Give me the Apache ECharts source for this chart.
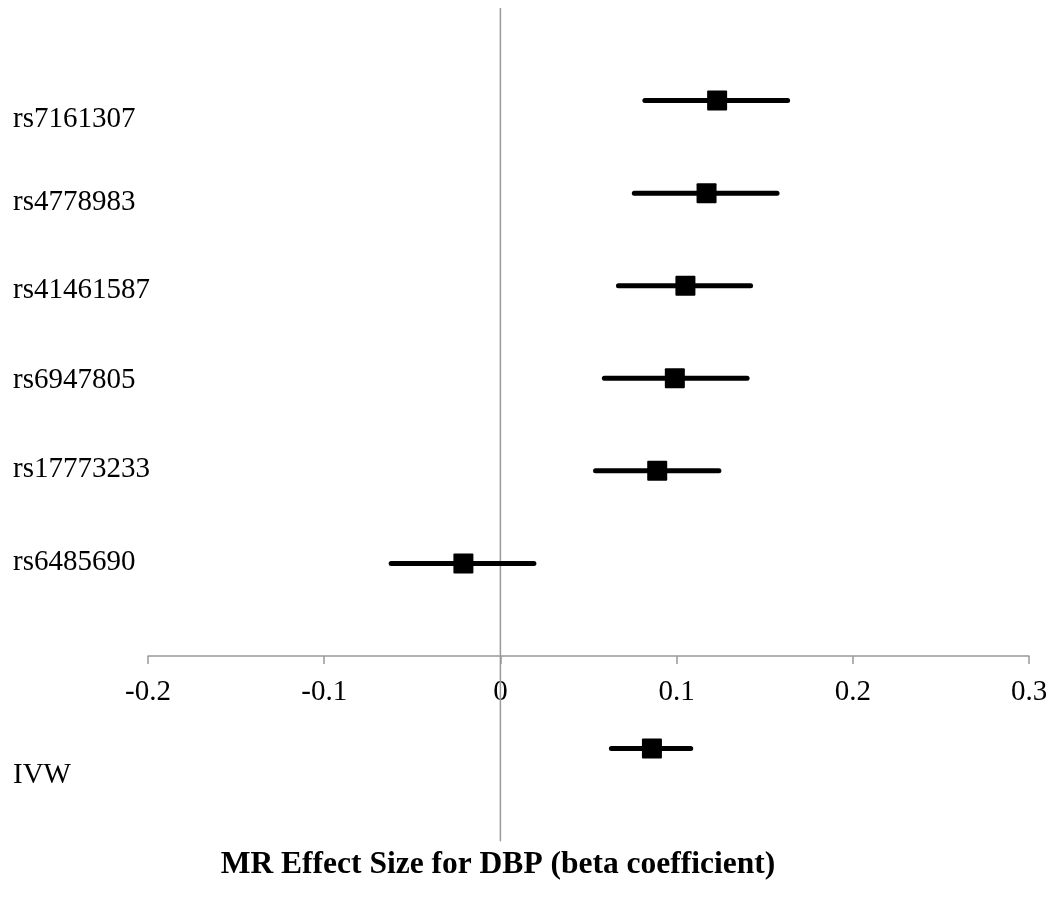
<!DOCTYPE html>
<html>
<head>
<meta charset="utf-8">
<script src="https://cdn.jsdelivr.net/npm/echarts@6/dist/echarts.min.js"></script>
<style>
  html, body { margin: 0; padding: 0; background: #fff; }
  #chart { width: 1052px; height: 901px; }
</style>
</head>
<body>
<div id="chart"></div>
<script>
// ---- data (top to bottom) ----
const snps      = ['rs7161307', 'rs4778983', 'rs41461587', 'rs6947805', 'rs17773233', 'rs6485690'];
const estimates = [0.123, 0.117, 0.105, 0.099, 0.089, -0.021];
const lowerCI   = [0.082, 0.076, 0.067, 0.059, 0.054, -0.062];
const upperCI   = [0.163, 0.157, 0.142, 0.140, 0.124, 0.019];
const pooledName = 'IVW';
const pooledEstimate = 0.086;
const pooledLower = 0.063;
const pooledUpper = 0.108;
const xTicks = [-0.2, -0.1, 0, 0.1, 0.2, 0.3];
const referenceValue = 0;
const axisTitle = 'MR Effect Size for DBP (beta coefficient)';

// ---- layout nudges for the row labels (pixels, style only) ----
const labelNudge = [19, 9, 5, 2, -1, -1];
const pooledNudge = 27;

const FONT = '"Liberation Serif", "Times New Roman", serif';

const rows = snps.map((n, i) => [lowerCI[i], upperCI[i], estimates[i], snps.length - i, n, labelNudge[i]]);
rows.push([pooledLower, pooledUpper, pooledEstimate, -1, pooledName, pooledNudge]);

const chart = echarts.init(document.getElementById('chart'));
chart.setOption({
  animation: false,
  backgroundColor: '#ffffff',
  title: {
    text: axisTitle,
    left: 493,
    textAlign: 'center',
    top: 844,
    textStyle: { fontFamily: FONT, fontSize: 31.5, fontWeight: 'bold', color: '#000' }
  },
  grid: { left: 148, right: 23, top: 8, bottom: 245, containLabel: false },
  xAxis: {
    type: 'value',
    min: xTicks[0],
    max: xTicks[xTicks.length - 1],
    interval: 0.1,
    axisLine: { show: true, onZero: false, lineStyle: { color: '#999', width: 1.5 } },
    axisTick: { show: true, length: 8, lineStyle: { color: '#999', width: 1.5 } },
    axisLabel: { fontFamily: FONT, fontSize: 29, color: '#000', margin: 22 },
    splitLine: { show: false }
  },
  yAxis: {
    type: 'value',
    min: 0,
    max: 7,
    axisLine: { show: false },
    axisTick: { show: false },
    axisLabel: { show: false },
    splitLine: { show: false }
  },
  series: [
    {
      type: 'custom',
      name: 'zero line',
      clip: false,
      silent: true,
      data: [[referenceValue]],
      encode: { x: 0 },
      renderItem: function (params, api) {
        const top = api.coord([api.value(0), 7]);
        const bot = api.coord([api.value(0), -2]);
        return {
          type: 'line',
          shape: { x1: top[0], y1: top[1], x2: bot[0], y2: bot[1] },
          style: { stroke: '#999', lineWidth: 1.5 }
        };
      }
    },
    {
      type: 'custom',
      name: 'labels',
      clip: false,
      data: rows,
      encode: { x: 2, y: 3 },
      renderItem: function (params, api) {
        const y = api.value(3);
        const p = api.coord([api.value(2), y]);
        return {
          type: 'text',
          style: {
            x: params.coordSys.x - 135,
            y: p[1] + api.value(5),
            text: rows[params.dataIndex][4],
            fill: '#000',
            font: '29px ' + FONT,
            textAlign: 'left',
            textVerticalAlign: 'middle'
          }
        };
      }
    },
    {
      type: 'custom',
      name: 'forest',
      clip: false,
      data: rows,
      encode: { x: [0, 1, 2], y: 3 },
      renderItem: function (params, api) {
        const y = api.value(3);
        const a = api.coord([api.value(0), y]);
        const b = api.coord([api.value(1), y]);
        const c = api.coord([api.value(2), y]);
        return {
          type: 'group',
          children: [
            { type: 'line', shape: { x1: a[0], y1: a[1], x2: b[0], y2: b[1] },
              style: { stroke: '#000', lineWidth: 5, lineCap: 'round' } },
            { type: 'rect', shape: { x: c[0] - 10, y: c[1] - 10, width: 20, height: 20, r: 1 },
              style: { fill: '#000' } }
          ]
        };
      }
    }
  ]
});
</script>
</body>
</html>
